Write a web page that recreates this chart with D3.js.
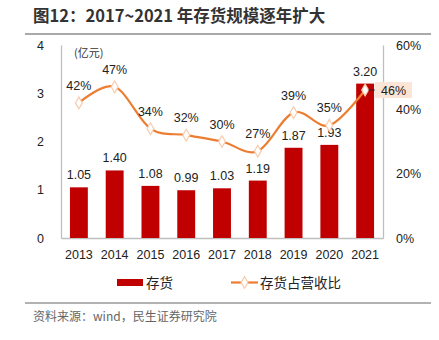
<!DOCTYPE html>
<html><head><meta charset="utf-8">
<script src="https://cdn.jsdelivr.net/npm/d3@7"></script>
<style>
body{margin:0;background:#fff;}
svg{display:block;font-family:"Liberation Sans","Noto Sans CJK SC",sans-serif;}
</style></head>
<body><svg id="c" width="439" height="340"></svg>
<script>
const years = ["2013","2014","2015","2016","2017","2018","2019","2020","2021"];
const inventory = [1.05,1.40,1.08,0.99,1.03,1.19,1.87,1.93,3.20];
const ratio = [42,47,34,32,30,27,39,35,46];
const leftTicks = [0,1,2,3,4];
const rightTicks = [0,20,40,60];

const svg = d3.select("#c");
const L = 61, R = 383, T = 45, B = 238;
const cjk = '"Noto Sans CJK SC","Liberation Sans",sans-serif';

const x = d3.scaleBand().domain(years).range([L,R]).paddingInner(0.5).paddingOuter(0.25);
const y = d3.scaleLinear().domain([0,4]).range([B,T]);
const y2 = d3.scaleLinear().domain([0,60]).range([B,T]);

// title
svg.append("text").attr("x",33).attr("y",22).attr("font-family",cjk).attr("font-weight","bold")
  .attr("font-size",16.5).attr("fill","#333").text("图12：2017~2021 年存货规模逐年扩大");
svg.append("line").attr("x1",25).attr("x2",431).attr("y1",34).attr("y2",34).attr("stroke","#555").attr("stroke-width",1.2);

// axes
const ga = svg.append("g").attr("transform",`translate(${L},0)`)
  .call(d3.axisLeft(y).tickValues(leftTicks).tickSize(0).tickPadding(17).tickFormat(d3.format("d")));
const gr = svg.append("g").attr("transform",`translate(${R},0)`)
  .call(d3.axisRight(y2).tickValues(rightTicks).tickSize(0).tickPadding(13).tickFormat(d=>d+"%"));
const gb = svg.append("g").attr("transform",`translate(0,${B})`)
  .call(d3.axisBottom(x).tickSize(0).tickPadding(12));
[ga,gr,gb].forEach(g=>{
  g.select(".domain").attr("stroke","#bfbfbf").attr("stroke-width",1.3);
  g.selectAll("text").attr("font-size",12.5).attr("fill","#222").attr("font-family","Liberation Sans, sans-serif");
});

svg.append("text").attr("x",74).attr("y",57).attr("font-family",cjk).attr("font-size",11).attr("fill","#333").text("(亿元)");

// bars
svg.selectAll("rect.bar").data(years).join("rect").attr("class","bar")
  .attr("x",d=>x(d)).attr("width",x.bandwidth())
  .attr("y",(d,i)=>y(inventory[i])).attr("height",(d,i)=>B-y(inventory[i]))
  .attr("fill","#c00000");
svg.selectAll("text.bl").data(years).join("text").attr("class","bl")
  .attr("x",d=>x(d)+x.bandwidth()/2).attr("y",(d,i)=>y(inventory[i])-8)
  .attr("text-anchor","middle").attr("font-size",12.5).attr("fill","#222")
  .text((d,i)=>inventory[i].toFixed(2));

// line
const cx = d=>x(d)+x.bandwidth()/2;
const line = d3.line().x((d,i)=>cx(years[i])).y(d=>y2(d)).curve(d3.curveCardinal.tension(0));
svg.append("path").attr("d",line(ratio)).attr("fill","none").attr("stroke","#ed7d31").attr("stroke-width",2.2);

const diamond = d3.symbol().type(d3.symbolDiamond).size(40);
svg.selectAll("path.mk").data(ratio).join("path").attr("class","mk")
  .attr("d",diamond).attr("transform",(d,i)=>`translate(${cx(years[i])},${y2(d)})`)
  .attr("fill","#fff").attr("stroke","#f8cbad").attr("stroke-width",1.2);

// percent labels
svg.selectAll("text.pl").data(ratio.slice(0,8)).join("text").attr("class","pl")
  .attr("x",(d,i)=>cx(years[i])).attr("y",(d,i)=>y2(d)-13)
  .attr("text-anchor","middle").attr("font-size",12.5).attr("fill","#222")
  .text(d=>d+"%");
// last label with box
const lx = cx(years[8]), ly = y2(ratio[8]);
svg.append("rect").attr("x",375).attr("y",ly-8).attr("width",37).attr("height",16).attr("fill","#fbe5d6");
svg.append("line").attr("x1",lx+3).attr("x2",375).attr("y1",ly).attr("y2",ly).attr("stroke","#222").attr("stroke-width",0.8);
svg.append("text").attr("x",393.5).attr("y",ly+4.5).attr("text-anchor","middle").attr("font-size",12.5).attr("fill","#222").text(ratio[8]+"%");

// legend
svg.append("rect").attr("x",117).attr("y",279).attr("width",26).attr("height",7).attr("fill","#c00000");
svg.append("text").attr("x",146).attr("y",288).attr("font-family",cjk).attr("font-size",13.5).attr("fill","#222").text("存货");
svg.append("line").attr("x1",231).attr("x2",258).attr("y1",282.5).attr("y2",282.5).attr("stroke","#ed7d31").attr("stroke-width",2.2);
svg.append("path").attr("d",diamond).attr("transform","translate(244.5,282.5)").attr("fill","#fff").attr("stroke","#f8cbad").attr("stroke-width",1.2);
svg.append("text").attr("x",260).attr("y",288).attr("font-family",cjk).attr("font-size",13.5).attr("fill","#222").text("存货占营收比");

// footer
svg.append("line").attr("x1",25).attr("x2",431).attr("y1",303).attr("y2",303).attr("stroke","#666").attr("stroke-width",1.2);
svg.append("text").attr("x",33).attr("y",321).attr("font-family",cjk).attr("font-size",12).attr("fill","#666").text("资料来源：wind，民生证券研究院");
</script></body></html>
